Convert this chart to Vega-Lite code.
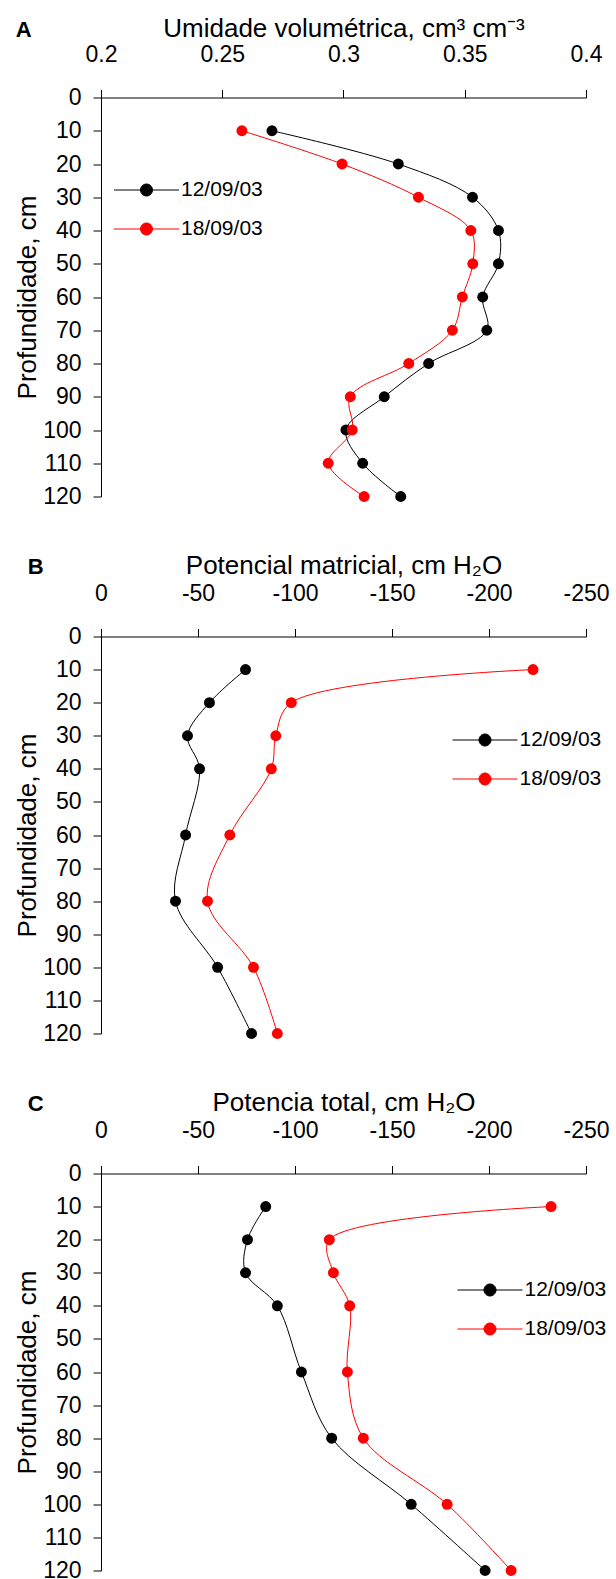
{
  "$schema": "https://vega.github.io/schema/vega-lite/v6.json",
  "padding": {"left": 14, "top": 15.5, "right": 5, "bottom": 5},
  "background": "white",
  "datasets": {
    "A": [
      {"date": "12/09/03", "depth": 10, "value": 0.2705},
      {"date": "12/09/03", "depth": 20, "value": 0.3226},
      {"date": "12/09/03", "depth": 30, "value": 0.3532},
      {"date": "12/09/03", "depth": 40, "value": 0.3639},
      {"date": "12/09/03", "depth": 50, "value": 0.3639},
      {"date": "12/09/03", "depth": 60, "value": 0.3574},
      {"date": "12/09/03", "depth": 70, "value": 0.3591},
      {"date": "12/09/03", "depth": 80, "value": 0.3351},
      {"date": "12/09/03", "depth": 90, "value": 0.3168},
      {"date": "12/09/03", "depth": 100, "value": 0.3010},
      {"date": "12/09/03", "depth": 110, "value": 0.3079},
      {"date": "12/09/03", "depth": 120, "value": 0.3236},
      {"date": "18/09/03", "depth": 10, "value": 0.2581},
      {"date": "18/09/03", "depth": 20, "value": 0.2994},
      {"date": "18/09/03", "depth": 30, "value": 0.3309},
      {"date": "18/09/03", "depth": 40, "value": 0.3525},
      {"date": "18/09/03", "depth": 50, "value": 0.3533},
      {"date": "18/09/03", "depth": 60, "value": 0.3490},
      {"date": "18/09/03", "depth": 70, "value": 0.3449},
      {"date": "18/09/03", "depth": 80, "value": 0.3269},
      {"date": "18/09/03", "depth": 90, "value": 0.3028},
      {"date": "18/09/03", "depth": 100, "value": 0.3036},
      {"date": "18/09/03", "depth": 110, "value": 0.2937},
      {"date": "18/09/03", "depth": 120, "value": 0.3085}
    ],
    "B": [
      {"date": "12/09/03", "depth": 10, "value": -74.5},
      {"date": "12/09/03", "depth": 20, "value": -55.9},
      {"date": "12/09/03", "depth": 30, "value": -44.6},
      {"date": "12/09/03", "depth": 40, "value": -50.8},
      {"date": "12/09/03", "depth": 60, "value": -43.6},
      {"date": "12/09/03", "depth": 80, "value": -38.4},
      {"date": "12/09/03", "depth": 100, "value": -60.1},
      {"date": "12/09/03", "depth": 120, "value": -77.6},
      {"date": "18/09/03", "depth": 10, "value": -222.7},
      {"date": "18/09/03", "depth": 20, "value": -98.1},
      {"date": "18/09/03", "depth": 30, "value": -90.1},
      {"date": "18/09/03", "depth": 40, "value": -87.8},
      {"date": "18/09/03", "depth": 60, "value": -66.4},
      {"date": "18/09/03", "depth": 80, "value": -54.9},
      {"date": "18/09/03", "depth": 100, "value": -78.6},
      {"date": "18/09/03", "depth": 120, "value": -90.9}
    ],
    "C": [
      {"date": "12/09/03", "depth": 10, "value": -84.9},
      {"date": "12/09/03", "depth": 20, "value": -75.5},
      {"date": "12/09/03", "depth": 30, "value": -74.5},
      {"date": "12/09/03", "depth": 40, "value": -90.9},
      {"date": "12/09/03", "depth": 60, "value": -103.3},
      {"date": "12/09/03", "depth": 80, "value": -118.9},
      {"date": "12/09/03", "depth": 100, "value": -159.9},
      {"date": "12/09/03", "depth": 120, "value": -198.0},
      {"date": "18/09/03", "depth": 10, "value": -232.0},
      {"date": "18/09/03", "depth": 20, "value": -117.7},
      {"date": "18/09/03", "depth": 30, "value": -119.8},
      {"date": "18/09/03", "depth": 40, "value": -128.2},
      {"date": "18/09/03", "depth": 60, "value": -127.0},
      {"date": "18/09/03", "depth": 80, "value": -135.2},
      {"date": "18/09/03", "depth": 100, "value": -178.4},
      {"date": "18/09/03", "depth": 120, "value": -211.4}
    ]
  },
  "spacing": 44,
  "resolve": {
    "scale": {"color": "independent", "x": "independent", "y": "independent"},
    "legend": {"color": "independent"},
    "axis": {"x": "independent", "y": "independent"}
  },
  "vconcat": [
    {
      "data": {"name": "A"},
      "width": 485,
      "height": 399,
      "title": {"text": "A", "offset": -26, "dx": 1},
      "encoding": {
        "y": {"field": "depth", "type": "quantitative",
          "scale": {"domain": [0, 120], "reverse": true, "nice": false, "zero": false},
          "axis": {"title": "Profundidade, cm", "values": [0, 10, 20, 30, 40, 50, 60, 70, 80, 90, 100, 110, 120]}},
        "x": {"field": "value", "type": "quantitative",
          "scale": {"domain": [0.2, 0.4], "nice": false, "zero": false},
          "axis": {"orient": "top", "title": "Umidade volumétrica, cm³ cm⁻³", "titlePadding": 2, "values": [0.2, 0.25, 0.3, 0.35, 0.4], "format": "~g"}},
        "color": {"field": "date", "type": "nominal",
          "scale": {"domain": ["12/09/03", "18/09/03"], "range": ["#000000", "#ff0000"]},
          "legend": {"legendX": 35, "legendY": 82}}
      },
      "layer": [
        {"mark": {"type": "line", "interpolate": "catmull-rom", "strokeWidth": 1}, "encoding": {"order": {"field": "depth", "type": "quantitative"}}},
        {"mark": {"type": "point", "filled": true, "size": 120, "opacity": 1}}
      ]
    },
    {
      "data": {"name": "B"},
      "width": 485,
      "height": 397,
      "title": {"text": "B", "offset": -26, "dx": 13},
      "encoding": {
        "y": {"field": "depth", "type": "quantitative",
          "scale": {"domain": [0, 120], "reverse": true, "nice": false, "zero": false},
          "axis": {"title": "Profundidade, cm", "values": [0, 10, 20, 30, 40, 50, 60, 70, 80, 90, 100, 110, 120]}},
        "x": {"field": "value", "type": "quantitative",
          "scale": {"domain": [-250, 0], "reverse": true, "nice": false, "zero": false},
          "axis": {"orient": "top", "title": "Potencial matricial, cm H₂O", "values": [0, -50, -100, -150, -200, -250], "labelExpr": "toString(datum.value)"}},
        "color": {"field": "date", "type": "nominal",
          "scale": {"domain": ["12/09/03", "18/09/03"], "range": ["#000000", "#ff0000"]},
          "legend": {"legendX": 373.5, "legendY": 93}}
      },
      "layer": [
        {"mark": {"type": "line", "interpolate": "catmull-rom", "strokeWidth": 1}, "encoding": {"order": {"field": "depth", "type": "quantitative"}}},
        {"mark": {"type": "point", "filled": true, "size": 120, "opacity": 1}}
      ]
    },
    {
      "data": {"name": "C"},
      "width": 485,
      "height": 397,
      "title": {"text": "C", "offset": -26, "dx": 13},
      "encoding": {
        "y": {"field": "depth", "type": "quantitative",
          "scale": {"domain": [0, 120], "reverse": true, "nice": false, "zero": false},
          "axis": {"title": "Profundidade, cm", "values": [0, 10, 20, 30, 40, 50, 60, 70, 80, 90, 100, 110, 120]}},
        "x": {"field": "value", "type": "quantitative",
          "scale": {"domain": [-250, 0], "reverse": true, "nice": false, "zero": false},
          "axis": {"orient": "top", "title": "Potencia total, cm H₂O", "values": [0, -50, -100, -150, -200, -250], "labelExpr": "toString(datum.value)"}},
        "color": {"field": "date", "type": "nominal",
          "scale": {"domain": ["12/09/03", "18/09/03"], "range": ["#000000", "#ff0000"]},
          "legend": {"legendX": 378.5, "legendY": 106}}
      },
      "layer": [
        {"mark": {"type": "line", "interpolate": "catmull-rom", "strokeWidth": 1}, "encoding": {"order": {"field": "depth", "type": "quantitative"}}},
        {"mark": {"type": "point", "filled": true, "size": 120, "opacity": 1}}
      ]
    }
  ],
  "config": {
    "font": "Liberation Sans",
    "view": {"stroke": null},
    "axis": {
      "labelFont": "Liberation Sans", "labelFontSize": 23, "labelColor": "#000000",
      "titleFont": "Liberation Sans", "titleFontSize": 26, "titleFontWeight": "normal", "titleColor": "#000000",
      "domainColor": "#000000", "tickColor": "#000000", "domainWidth": 1, "tickWidth": 1,
      "grid": false, "tickSize": 8, "labelOverlap": false, "labelFlush": false, "labelBound": false
    },
    "axisX": {"labelPadding": 23, "titlePadding": 4},
    "axisY": {"labelPadding": 12, "titlePadding": 2},
    "legend": {
      "orient": "none", "title": null, "padding": 0,
      "symbolType": "M-3.25,0L3.25,0M-0.6,0A0.6,0.6,0,1,1,0.6,0A0.6,0.6,0,1,1,-0.6,0Z",
      "symbolSize": 400, "symbolStrokeWidth": 1,
      "labelFont": "Liberation Sans", "labelFontSize": 21, "labelColor": "#000000",
      "labelOffset": 24, "rowPadding": 17
    },
    "title": {"font": "Liberation Sans", "fontSize": 22, "fontWeight": "bold", "color": "#000000", "anchor": "start", "frame": "bounds"}
  }
}
